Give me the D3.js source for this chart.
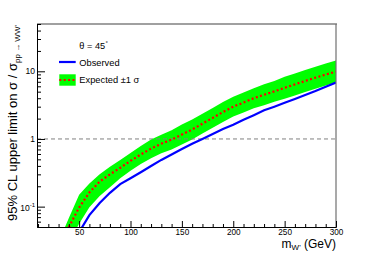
<!DOCTYPE html>
<html><head><meta charset="utf-8">
<script src="https://cdn.jsdelivr.net/npm/d3@7"></script>
<style>body{margin:0;background:#fff}svg{display:block;font-family:"Liberation Sans",Arial,sans-serif}</style>
</head><body><svg id="c" width="374" height="253"></svg>
<script>
const masses   = [35,40,50,60,70,80,90,100,110,120,130,140,150,160,170,180,190,200,210,220,230,240,250,260,270,280,290,300];
const expected = [0.028,0.05,0.097,0.162,0.235,0.30,0.375,0.475,0.59,0.72,0.85,0.98,1.16,1.38,1.68,2.05,2.5,3.0,3.45,4.0,4.5,5.05,5.7,6.4,7.2,8.05,8.95,9.9];
const upper1s  = [0.045,0.068,0.150,0.22,0.30,0.387,0.49,0.62,0.79,0.98,1.155,1.35,1.63,1.94,2.36,2.88,3.51,4.21,4.84,5.62,6.43,7.21,8.28,9.30,10.46,11.7,13.0,14.4];
const lower1s  = [0.016,0.029,0.056,0.098,0.144,0.193,0.263,0.338,0.427,0.52,0.615,0.70,0.826,0.98,1.20,1.46,1.78,2.14,2.46,2.85,3.15,3.54,3.92,4.40,4.95,5.54,6.16,6.81];
const observed = [0.012,0.022,0.042,0.075,0.113,0.16,0.215,0.262,0.322,0.398,0.49,0.59,0.71,0.85,1.0,1.18,1.40,1.62,1.92,2.25,2.65,3.0,3.42,3.9,4.45,5.1,5.9,6.8];
const xTicks = [50,100,150,200,250,300];
const xMinorTicks = d3.range(10,300,10).filter(v => v % 50 !== 0);
const yTicks = [0.1,1,10];
const yTickLabels = [["10","-1"],["1",""],["10",""]];
const yMinorTicks = [0.06,0.07,0.08,0.09,0.2,0.3,0.4,0.5,0.6,0.7,0.8,0.9,2,3,4,5,6,7,8,9,20,30,40,50];
const legendTitle = "θ = 45";
const legendObs = "Observed";
const legendExp = "Expected ±1 σ";

const L=37,R=336,T=24,B=227;
const svg = d3.select("#c");
const x = d3.scaleLinear([9,300],[L,R]);
const y = d3.scaleLog([0.05,50],[B,T]);
const data = masses.map((m,i)=>({m,e:expected[i],u:upper1s[i],l:lower1s[i],o:observed[i]}));

svg.append("clipPath").attr("id","clip").append("rect").attr("x",L).attr("y",T).attr("width",R-L).attr("height",B-T);
const g = svg.append("g").attr("clip-path","url(#clip)");
g.append("path").datum(data).attr("fill","#00ff00")
  .attr("d", d3.area().x(d=>x(d.m)).y0(d=>y(d.l)).y1(d=>y(d.u)));
g.append("line").attr("x1",L).attr("x2",R).attr("y1",y(1)).attr("y2",y(1))
  .attr("stroke","#808080").attr("stroke-width",1).attr("stroke-dasharray","4,3");
g.append("path").datum(data).attr("fill","none").attr("stroke","#0000ff").attr("stroke-width",2.2)
  .attr("d", d3.line().x(d=>x(d.m)).y(d=>y(d.o)));
g.append("path").datum(data).attr("fill","none").attr("stroke","#ff0000").attr("stroke-width",2.2)
  .attr("stroke-dasharray","2,2.4")
  .attr("d", d3.line().x(d=>x(d.m)).y(d=>y(d.e)));

// frame top/right
svg.append("line").attr("x1",L).attr("x2",R+1).attr("y1",T).attr("y2",T).attr("stroke","#a0a0a0").attr("stroke-width",2);
svg.append("line").attr("x1",R).attr("x2",R).attr("y1",T).attr("y2",B).attr("stroke","#707070").attr("stroke-width",1.2);

// axes
const ax = svg.append("g").attr("transform",`translate(0,${B})`);
ax.call(d3.axisBottom(x).tickValues(xTicks).tickSizeInner(-6).tickSizeOuter(0).tickPadding(2.4));
ax.append("g").call(d3.axisBottom(x).tickValues(xMinorTicks).tickSizeInner(-3).tickSizeOuter(0).tickFormat(""));
ax.selectAll("text").attr("font-size","8.2px").attr("fill","#000").attr("font-family","Liberation Sans, Arial, sans-serif");
ax.selectAll(".domain").attr("stroke","#000");
ax.selectAll("line").attr("stroke","#000");

const ay = svg.append("g").attr("transform",`translate(${L},0)`);
ay.call(d3.axisLeft(y).tickValues(yTicks).tickSizeInner(-8).tickSizeOuter(0).tickFormat(""));
ay.append("g").call(d3.axisLeft(y).tickValues(yMinorTicks).tickSizeInner(-4).tickSizeOuter(0).tickFormat(""));
ay.selectAll(".domain").attr("stroke","#000");
ay.selectAll("line").attr("stroke","#000");
yTicks.forEach((v,i)=>{
  const [base,sup]=yTickLabels[i];
  const t = ay.append("text").attr("text-anchor","end").attr("x",-2).attr("y",y(v)+(sup?4.6:3)).attr("font-size","8.5px").attr("fill","#000");
  t.append("tspan").text(base);
  if(sup) t.append("tspan").attr("font-size","6px").attr("dy","-4").text(sup);
});

// axis titles
const xt = svg.append("text").attr("x",R).attr("y",247.5).attr("text-anchor","end").attr("font-size","12px").attr("fill","#000");
xt.append("tspan").text("m");
xt.append("tspan").attr("font-size","8px").attr("dy","2.5").text("W'");
xt.append("tspan").attr("dy","-2.5").text(" (GeV)");

const yt = svg.append("text").attr("transform","translate(17,25) rotate(-90)").attr("text-anchor","end").attr("font-size","13px").attr("fill","#000");
yt.append("tspan").text("95% CL upper limit on σ / σ");
yt.append("tspan").attr("font-size","8px").attr("dy","3").text("pp → WW'");

// legend
const lg = svg.append("g");
const th = lg.append("text").attr("x",79.3).attr("y",49).attr("font-size","9.2px").attr("fill","#000");
th.append("tspan").text(legendTitle);
th.append("tspan").attr("font-size","6px").attr("dy","-4.5").attr("dx","0.5").text("°");
lg.append("line").attr("x1",59).attr("x2",75.7).attr("y1",62).attr("y2",62).attr("stroke","#0000ff").attr("stroke-width",2.2);
lg.append("text").attr("x",79.3).attr("y",65.5).attr("font-size","9.3px").attr("fill","#000").text(legendObs);
lg.append("rect").attr("x",59.3).attr("y",74.3).attr("width",16.4).attr("height",11.4).attr("fill","#00ff00");
lg.append("line").attr("x1",59.3).attr("x2",75.7).attr("y1",80).attr("y2",80).attr("stroke","#ff0000").attr("stroke-width",2.2).attr("stroke-dasharray","2,2.4");
lg.append("text").attr("x",79.3).attr("y",82.5).attr("font-size","9.3px").attr("fill","#000").text(legendExp);
</script></body></html>
